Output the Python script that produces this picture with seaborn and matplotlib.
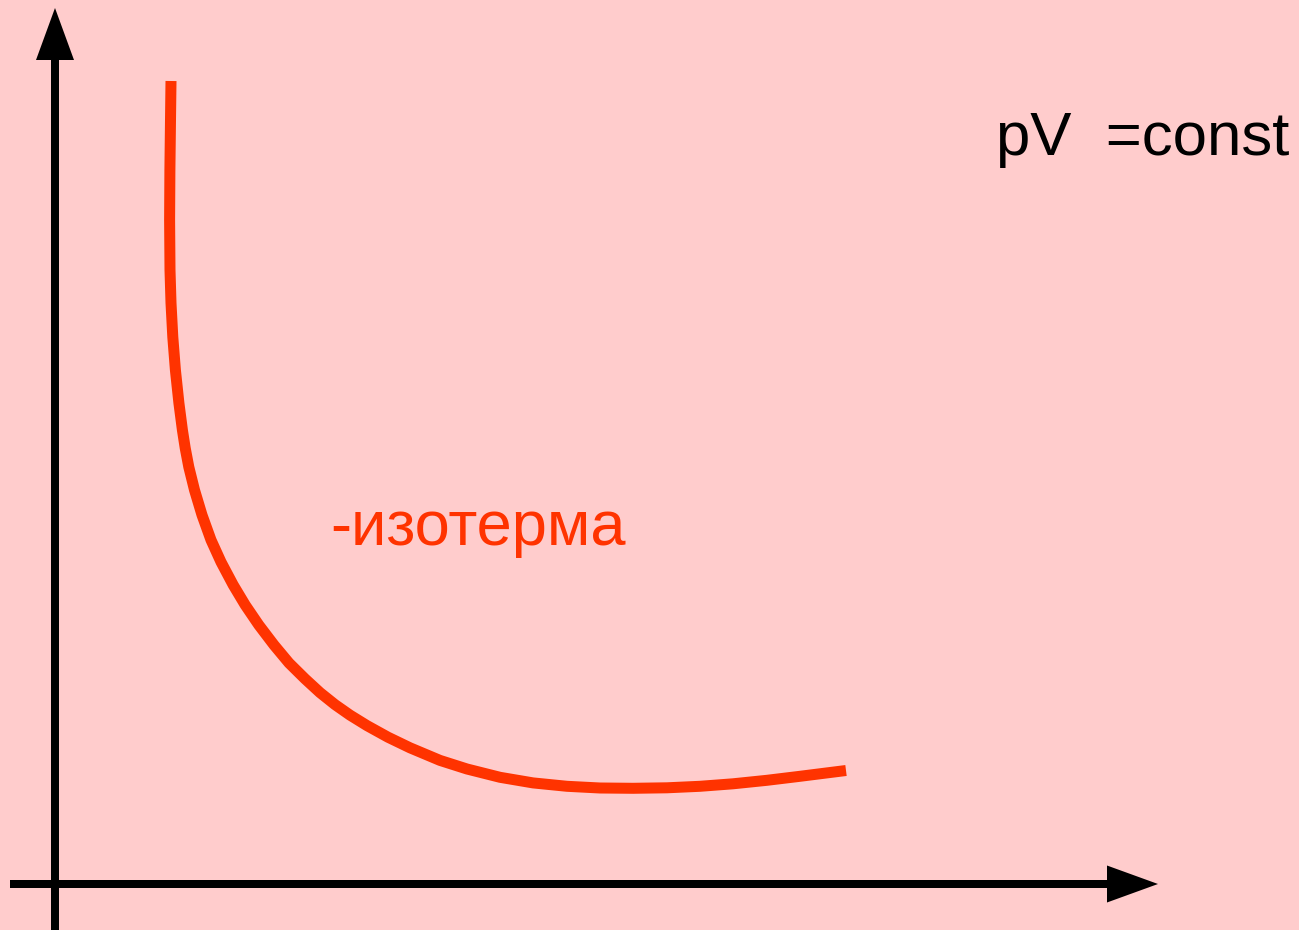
import numpy as np
import matplotlib
matplotlib.use('Agg')
import matplotlib.pyplot as plt
import pandas as pd
import seaborn as sns

# isotherm (V, p in arbitrary units, origin at the axes corner)
volume = [1.160, 1.155, 1.149, 1.146, 1.150, 1.160, 1.178, 1.204, 1.239, 1.274,
          1.302, 1.338, 1.395, 1.470, 1.560, 1.660, 1.782, 1.902, 2.038, 2.190,
          2.340, 2.500, 2.650, 2.800, 2.950, 3.120, 3.330, 3.550, 3.850, 4.120,
          4.450, 4.780, 5.120, 5.450, 5.780, 6.120, 6.450, 6.780, 7.120, 7.450,
          7.910]
pressure = [8.030, 7.640, 7.140, 6.640, 6.140, 5.810, 5.470, 5.140, 4.810, 4.540,
            4.360, 4.170, 3.940, 3.690, 3.440, 3.220, 2.990, 2.790, 2.590, 2.390,
            2.210, 2.052, 1.914, 1.794, 1.689, 1.584, 1.468, 1.362, 1.236, 1.150,
            1.067, 1.011, 0.977, 0.960, 0.957, 0.962, 0.977, 1.002, 1.037, 1.077,
            1.135]

formula_label = "pV  =const"
curve_label = "-изотерма"

BG = '#FFCCCC'
CURVE = '#FF3300'

sns.set_theme(style='white', rc={'figure.facecolor': BG, 'axes.facecolor': BG})
plt.rcParams['font.family'] = ['Liberation Sans', 'DejaVu Sans']

fig = plt.figure(figsize=(12.99, 9.30), dpi=100)
ax = fig.add_axes([0, 0, 1, 1])
ax.set_xlim(-0.55, 12.44)
ax.set_ylim(-0.46, 8.84)
ax.axis('off')

# coordinate axes with arrow heads
lw_axis = 8 * 72 / 100
ax.plot([0, 0], [-0.46, 8.26], color='black', lw=lw_axis, solid_capstyle='butt')
ax.fill([-0.19, 0.19, 0], [8.24, 8.24, 8.76], color='black', lw=0)
ax.plot([-0.45, 10.54], [0, 0], color='black', lw=lw_axis, solid_capstyle='butt')
ax.fill([10.52, 10.52, 11.03], [0.185, -0.185, 0], color='black', lw=0)

df = pd.DataFrame({'V': volume, 'p': pressure})
sns.lineplot(data=df, x='V', y='p', sort=False, estimator=None, ax=ax,
             color=CURVE, lw=11 * 72 / 100, solid_capstyle='butt',
             solid_joinstyle='round')

ax.text(9.41, 7.29, formula_label, color='black', fontsize=44.5,
        ha='left', va='baseline')
ax.text(2.75, 3.39, curve_label, color=CURVE, fontsize=45.5,
        ha='left', va='baseline')

fig.savefig('out.png', dpi=100, facecolor=BG)
